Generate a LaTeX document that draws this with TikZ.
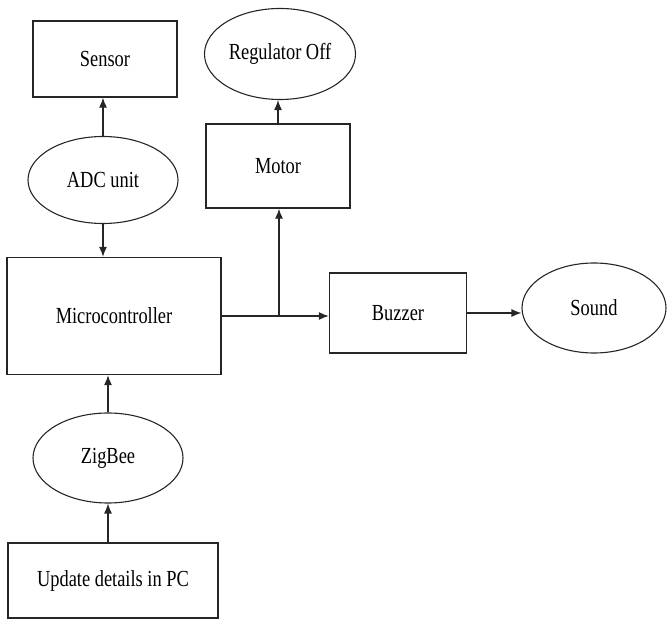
\documentclass[tikz,border=0pt]{standalone}
\usepackage{fontspec}
\setmainfont[FakeStretch=0.8]{Liberation Serif}
\usetikzlibrary{shapes.geometric,arrows.meta}
\begin{document}
\begin{tikzpicture}[x=1pt,y=-1pt,
  box/.style={draw=black!85,line width=1.3pt,rectangle,inner sep=0pt,font=\fontsize{23}{25}\selectfont},
  oval/.style={draw=black!85,line width=1.1pt,ellipse,inner sep=0pt,font=\fontsize{23}{25}\selectfont},
  arr/.style={draw=black!85,line width=1.2pt,-{Latex[length=10pt,width=8pt]}}]
\useasboundingbox (0,0) rectangle (667,620);
\node[box,minimum width=144pt,minimum height=76pt] (sensor) at (105,59) {Sensor};
\node[oval,minimum width=150pt,minimum height=87pt] (adc) at (103,180) {ADC unit};
\node[oval,minimum width=151pt,minimum height=91pt] (reg) at (280,54) {Regulator Off};
\node[box,minimum width=144pt,minimum height=84pt] (motor) at (278,166) {Motor};
\node[box,minimum width=214pt,minimum height=117pt] (micro) at (114,316) {Microcontroller};
\node[box,minimum width=137pt,minimum height=80pt] (buzzer) at (398,313) {Buzzer};
\node[oval,minimum width=144pt,minimum height=90pt] (sound) at (594,308) {Sound};
\node[oval,minimum width=150pt,minimum height=90pt] (zig) at (108,458) {ZigBee};
\node[box,minimum width=210pt,minimum height=75pt] (upd) at (113,580.5) {Update details in PC};
\coordinate (br) at (279,316);
\draw[arr] (adc.north) -- (adc.north |- sensor.south);
\draw[arr] (adc.south) -- (adc.south |- micro.north);
\draw[arr] (zig.north) -- (zig.north |- micro.south);
\draw[arr] (zig.south |- upd.north) -- (zig.south);
\draw[arr] (motor.north) -- (motor.north |- reg.south);
\draw[arr] (micro.east) -- (micro.east -| buzzer.west);
\draw[arr] (br) -- (br |- motor.south);
\draw[arr] (buzzer.east) -- (buzzer.east -| sound.west);
\end{tikzpicture}
\end{document}
